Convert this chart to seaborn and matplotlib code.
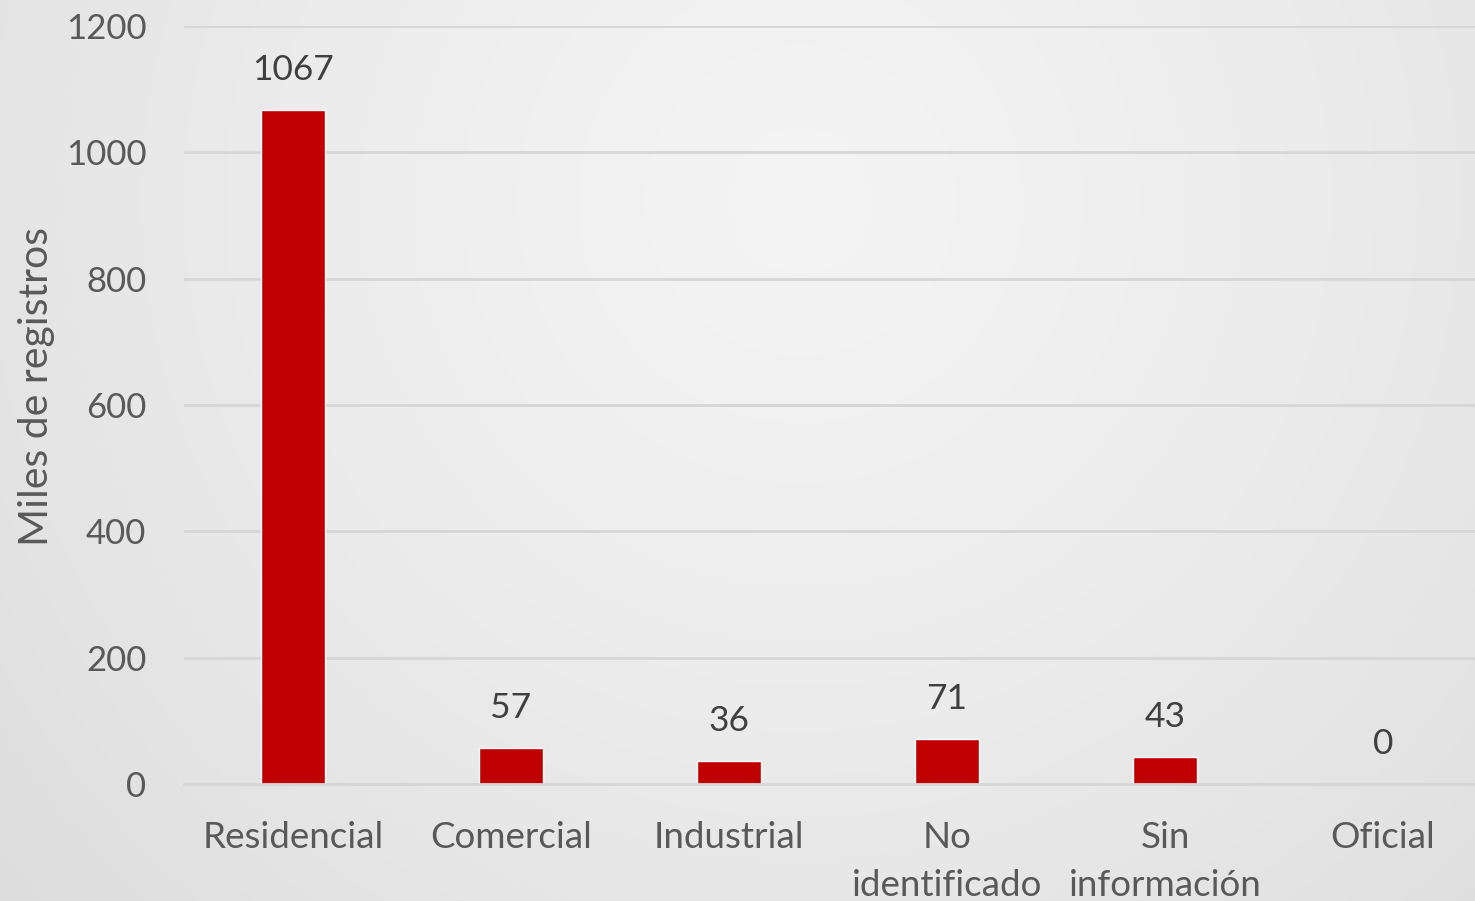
import numpy as np
import pandas as pd
import matplotlib
matplotlib.use("Agg")
import matplotlib.pyplot as plt
import seaborn as sns

categories = ["Residencial", "Comercial", "Industrial", "No\nidentificado", "Sin\ninformación", "Oficial"]
values = [1067, 57, 36, 71, 43, 0]
yticks = [0, 200, 400, 600, 800, 1000, 1200]

sns.set_theme(style="white")
plt.rcParams["font.family"] = ["Lato", "DejaVu Sans"]

W, H = 1475, 901
fig = plt.figure(figsize=(W / 100, H / 100), dpi=100)

# soft radial background, lighter towards the upper middle
bg = fig.add_axes([0, 0, 1, 1], zorder=-10)
yy, xx = np.mgrid[0:H, 0:W]
r = np.sqrt(((xx - 800) / 900.0) ** 2 + ((yy - 200) / 900.0) ** 2)
shade = 0.955 - 0.07 * np.clip(r, 0, 1.3) ** 1.4
bg.imshow(np.dstack([shade] * 3), extent=[0, 1, 0, 1], aspect="auto", origin="upper")
bg.axis("off")

# plot area runs slightly past the right edge of the figure
ax = fig.add_axes([184 / W, 1 - 784 / H, 1308 / W, (784 - 26) / H])
ax.patch.set_alpha(0)

df = pd.DataFrame({"cat": categories, "val": values})
sns.barplot(data=df, x="cat", y="val", color="#C00000", saturation=1, width=0.29, ax=ax)

ax.set_xlim(-0.5, len(categories) - 0.5)
ax.set_ylim(0, 1200)
ax.set_yticks(yticks)
ax.set_yticklabels([str(t) for t in yticks])
ax.grid(axis="y", color="#D6D6D6", linewidth=2)
ax.set_axisbelow(True)
for s in ["top", "right", "left"]:
    ax.spines[s].set_visible(False)
ax.spines["bottom"].set_color("#D6D6D6")
ax.spines["bottom"].set_linewidth(2)

ax.tick_params(axis="y", length=0, labelsize=25, colors="#595959", pad=27)
ax.tick_params(axis="x", length=0, labelsize=26.5, colors="#595959", pad=27)
for lab in ax.get_xticklabels():
    lab.set_linespacing(1.52)
    lab.set_verticalalignment("top")
ax.set_xlabel("")
ax.set_ylabel("Miles de registros", fontsize=29.5, color="#595959")
ax.yaxis.set_label_coords(-0.1124, 0.525)
ax.yaxis.label.set_verticalalignment("center")

for i, v in enumerate(values):
    ax.annotate(str(v), (i, v), xytext=(0, 29), textcoords="offset points",
                ha="center", va="center", fontsize=25.5, color="#404040")

fig.savefig("out.png", dpi=100)
